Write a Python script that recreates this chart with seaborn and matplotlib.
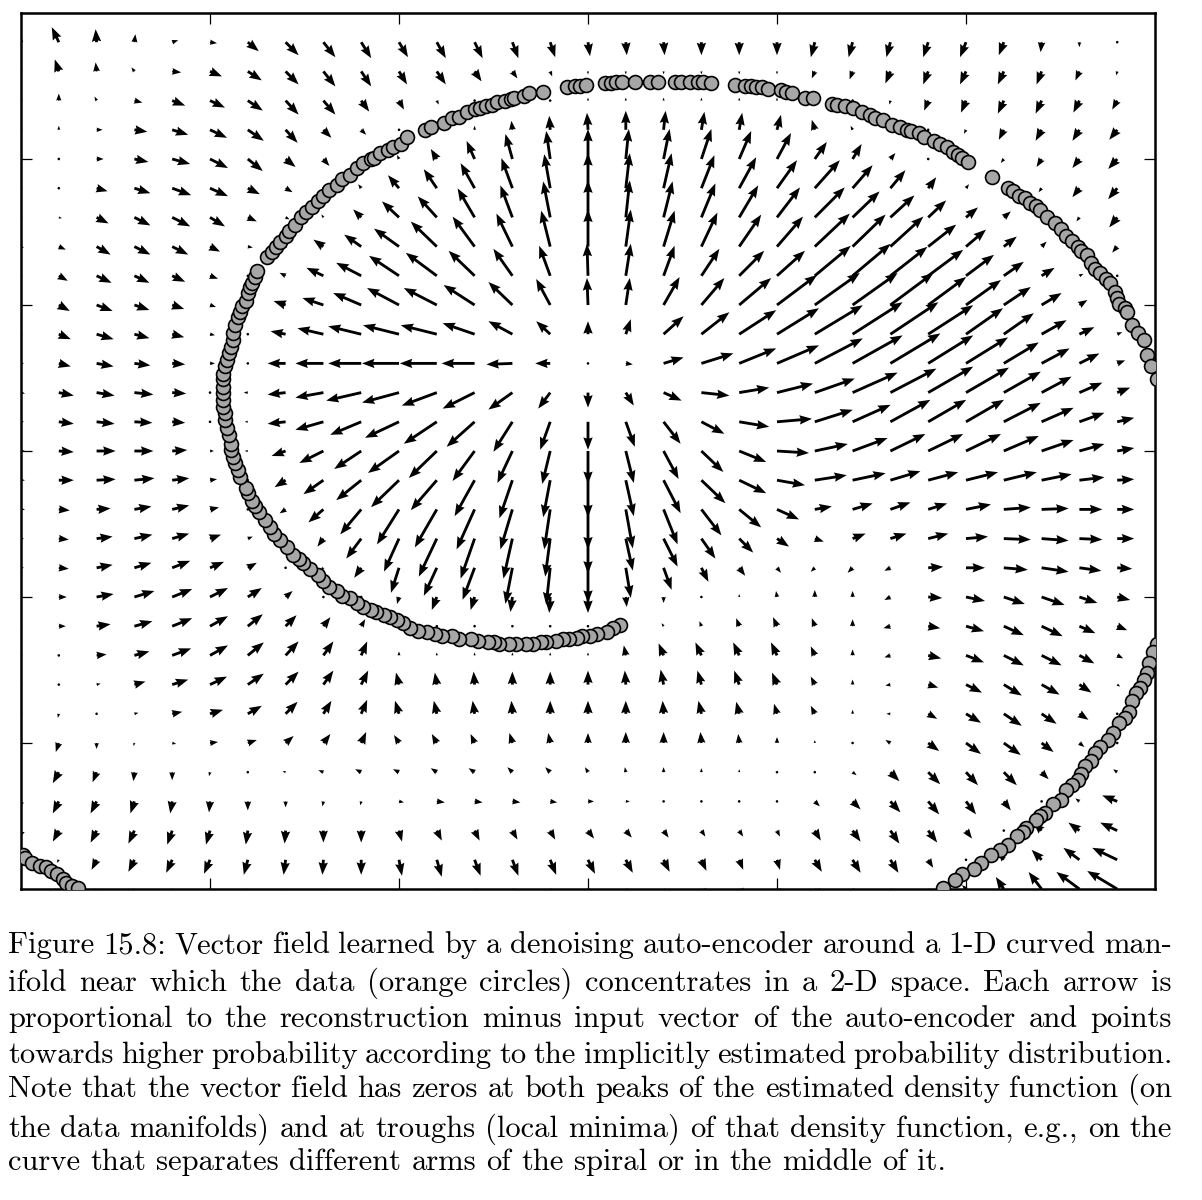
import numpy as np
import pandas as pd
import matplotlib
matplotlib.use("Agg")
import matplotlib.pyplot as plt
import seaborn as sns

# grid of the vector field (data units), rows listed from top to bottom
GRID_X = [-3.0, -2.8, -2.6, -2.4, -2.2, -2.0, -1.8, -1.6, -1.4, -1.2, -1.0, -0.8, -0.6, -0.4, -0.2,
          0.0, 0.2, 0.4, 0.6, 0.8, 1.0, 1.2, 1.4, 1.6, 1.8, 2.0, 2.2, 2.4, 2.6, 2.8]
GRID_Y = [2.8, 2.6, 2.4, 2.2, 2.0, 1.8, 1.6, 1.4, 1.2, 1.0, 0.8, 0.6, 0.4, 0.2, 0.0,
          -0.2, -0.4, -0.6, -0.8, -1.0, -1.2, -1.4, -1.6, -1.8, -2.0, -2.2, -2.4, -2.6, -2.8, -3.0]

# reconstruction minus input (screen units, v up)
U_ROWS = [
    [0,-7,-1,1,6,7,11,13,12,10,9,9,8,6,5,2,1,1,0,0,0,-4,-4,-4,-5,-6,-5,-1,0,0],
    [0,-4,-1,-3,9,12,14,13,12,10,8,9,7,5,2,0,0,0,0,0,0,-3,-3,-5,-5,-6,-6,-5,-4,-1],
    [0,0,-2,8,13,15,15,13,12,8,5,2,0,1,1,0,0,0,0,0,0,0,0,-1,-4,-5,-6,-6,-6,-5],
    [0,0,6,13,16,17,16,12,8,5,0,-1,0,-1,-1,-1,0,2,3,3,4,-3,-2,0,0,-2,-5,-6,-7,-8],
    [0,1,7,14,18,18,15,10,6,1,-2,-6,-8,-7,-4,0,3,6,10,12,14,12,9,5,1,0,-3,-5,-7,-9],
    [0,1,11,16,19,18,12,7,-1,-3,-11,-13,-14,-11,-6,0,4,8,13,17,20,25,20,15,8,3,0,-3,-7,-9],
    [0,3,12,16,18,15,9,4,-2,-8,-17,-19,-17,-12,-7,0,4,9,14,19,23,30,27,24,18,12,7,0,-3,-8],
    [3,7,14,16,16,10,5,0,-10,-17,-25,-26,-22,-16,-9,0,5,11,16,22,26,35,33,33,28,20,13,5,0,-5],
    [2,9,15,15,13,8,2,-6,-17,-25,-30,-31,-26,-19,-11,-1,5,11,18,25,28,36,38,37,35,28,20,13,4,-2],
    [2,11,16,15,12,6,0,-12,-21,-28,-32,-33,-31,-24,-14,-1,4,16,23,32,40,45,45,43,38,35,27,20,8,0],
    [2,12,17,15,12,5,-1,-15,-26,-33,-36,-36,-32,-24,-14,0,5,20,28,37,42,48,50,48,45,37,30,25,15,5],
    [3,12,17,16,13,5,-2,-18,-28,-33,-37,-37,-33,-26,-15,0,7,20,32,37,42,48,50,50,45,42,35,28,20,8],
    [4,15,18,19,14,2,-4,-18,-28,-35,-37,-35,-32,-24,-12,0,8,18,28,30,36,40,45,46,45,43,37,30,23,13],
    [3,15,18,18,13,1,-3,-18,-28,-31,-34,-33,-28,-19,-10,0,9,17,23,30,35,38,38,40,38,38,37,32,25,17],
    [4,15,19,19,15,4,-3,-14,-24,-27,-31,-28,-22,-15,-8,0,8,15,22,27,32,33,35,35,35,35,35,32,25,17],
    [4,15,19,20,17,7,0,-11,-20,-25,-28,-26,-20,-13,-7,0,8,17,24,27,28,32,33,30,30,32,33,30,25,17],
    [4,11,14,17,17,9,2,-6,-15,-21,-22,-22,-18,-12,-6,0,7,14,20,22,22,17,20,20,19,25,27,27,23,17],
    [3,10,16,18,17,11,5,-2,-6,-15,-15,-18,-14,-9,-5,0,7,14,14,14,12,9,13,16,20,22,27,27,23,17],
    [3,10,16,17,18,14,9,2,-3,-7,-8,-13,-12,-7,-4,0,5,8,7,6,4,-4,-5,-6,15,19,24,27,22,15],
    [2,8,17,20,20,18,14,7,2,-1,-2,-5,-4,-2,-1,0,1,0,0,0,-1,0,0,-6,14,19,21,23,18,13],
    [2,7,14,18,20,18,15,11,7,4,0,0,0,0,0,0,0,-2,-2,-3,-4,-3,0,-7,12,18,20,21,16,10],
    [1,2,10,15,19,18,16,13,10,6,0,0,0,0,0,0,-2,-5,-6,-6,-6,-4,0,-6,13,18,20,20,15,6],
    [1,2,4,11,16,17,16,13,10,7,-3,-2,-1,0,0,0,-1,-3,-4,-5,-5,-4,0,-5,10,16,18,18,12,3],
    [0,-1,-2,4,10,13,14,12,8,6,-4,-3,-2,-1,0,0,0,-1,-3,-3,-3,-4,0,-4,9,15,18,15,9,0],
    [0,-3,0,-1,4,8,9,8,7,5,-5,-5,-4,-3,-2,0,0,0,-1,-1,0,0,1,-5,11,15,17,12,5,-2],
    [-2,-6,-4,-1,0,-1,0,-3,-5,-6,-6,-6,-6,-5,-5,-3,-1,0,0,0,0,0,4,9,12,12,13,7,0,-4],
    [-3,-6,-6,-4,-2,-1,0,0,-1,-1,5,8,8,8,7,6,4,2,1,1,1,5,8,10,11,10,7,0,-4,-15],
    [-4,-6,-6,-6,-5,-4,-2,-1,0,0,3,5,5,5,5,6,6,5,4,4,3,6,8,9,9,6,0,-8,-11,-17],
    [0,-2,-5,-6,-6,-6,-4,-2,-1,0,3,5,6,6,6,7,7,6,5,4,3,7,8,8,5,0,-5,-10,-16,-25],
    [-3,-2,-4,-5,-5,-5,-4,-2,-1,0,3,5,6,6,6,7,7,6,5,4,3,7,8,6,2,-4,-8,-13,-23,-30],
]
V_ROWS = [
    [6,15,13,8,2,-1,-9,-13,-15,-16,-15,-16,-16,-16,-15,-14,-13,-13,-13,-13,-13,-15,-15,-15,-15,-15,-13,-10,-5,-2],
    [4,12,9,4,-1,-5,-9,-13,-15,-15,-13,-13,-10,-7,-5,-3,-3,-3,-3,-3,-3,-7,-8,-12,-13,-13,-13,-13,-9,-4],
    [2,7,4,-2,-5,-7,-10,-14,-14,-11,-9,-4,-1,1,2,3,3,3,3,3,3,-2,0,-4,-10,-12,-13,-13,-12,-9],
    [0,4,0,-2,-5,-8,-11,-13,-8,-5,0,2,4,9,14,17,19,19,18,17,15,10,4,0,0,-4,-10,-11,-11,-10],
    [0,0,0,-3,-5,-9,-12,-8,-7,-1,4,10,18,25,28,30,30,30,30,28,26,17,15,6,1,0,-4,-8,-9,-10],
    [0,0,-3,-5,-7,-8,-6,-4,1,4,13,19,25,30,34,35,35,35,33,31,28,28,23,18,11,4,0,-4,-9,-11],
    [0,-1,-6,-8,-9,-9,-4,-2,3,8,16,21,29,32,36,37,37,36,34,32,30,30,26,22,17,10,6,0,-4,-10],
    [-1,-3,-8,-8,-8,-5,-1,0,7,12,18,25,30,33,36,37,37,36,34,32,30,33,32,30,22,17,10,5,0,-6],
    [0,-5,-7,-7,-6,-3,0,3,8,13,20,23,25,27,30,32,32,30,27,25,25,30,32,29,26,21,14,8,2,1],
    [0,-6,-6,-5,-4,-2,0,4,7,12,17,17,20,23,26,27,27,28,27,27,30,32,32,32,28,25,18,12,5,1],
    [0,-5,-5,-4,-3,-1,0,3,6,8,9,9,11,13,13,13,15,18,22,24,26,29,32,32,29,26,21,14,7,2],
    [0,-3,-3,-2,-1,0,0,0,0,0,0,0,0,-1,0,0,-1,6,10,15,18,25,28,30,28,26,21,15,10,3],
    [-1,-3,-3,-2,-1,0,0,-2,-5,-8,-10,-13,-16,-17,-16,-15,-13,-8,-3,5,9,14,20,24,26,25,21,16,10,5],
    [0,-2,-2,-1,-1,0,0,-2,-8,-13,-16,-22,-25,-30,-28,-28,-25,-22,-12,-5,3,12,17,22,22,22,19,14,9,4],
    [0,-1,0,0,1,0,0,-5,-12,-18,-22,-27,-30,-32,-33,-33,-32,-28,-21,-11,-2,7,13,17,17,17,15,11,7,3],
    [0,0,1,2,2,1,0,-7,-14,-20,-27,-30,-36,-38,-37,-37,-36,-33,-23,-13,-5,5,7,9,8,8,8,6,3,1],
    [0,-1,1,3,4,2,0,-4,-13,-25,-35,-38,-40,-40,-40,-40,-39,-35,-26,-18,-10,3,6,7,6,5,2,1,0,0],
    [0,-1,2,4,5,4,2,-1,-8,-20,-33,-38,-40,-40,-38,-35,-32,-28,-20,-14,-8,-3,5,5,5,2,-1,-2,-1,0],
    [0,-1,3,5,7,6,5,2,-3,-10,-25,-28,-32,-36,-37,-35,-30,-22,-14,-8,-5,-4,-5,-3,1,0,-2,-4,-3,-1],
    [0,0,3,6,8,9,9,6,2,-2,-7,-13,-13,-15,-16,-16,-10,-6,-2,3,6,7,6,-3,-1,-4,-7,-8,-6,-3],
    [0,0,2,5,8,10,12,11,9,7,0,0,-1,-1,0,0,0,3,5,8,9,8,7,-2,-2,-5,-9,-10,-7,-4],
    [0,0,1,4,7,10,13,14,14,14,4,3,3,3,3,3,10,12,13,13,13,9,6,-2,-3,-7,-10,-10,-8,-3],
    [0,0,1,3,5,8,11,13,14,14,12,12,13,13,13,14,14,15,14,14,12,8,5,-1,-3,-8,-11,-10,-8,-2],
    [0,-4,-2,1,2,4,8,12,13,14,13,13,13,13,13,13,13,13,13,12,10,8,4,0,-5,-9,-12,-10,-6,0],
    [-2,-9,-6,-3,-1,1,3,7,9,11,8,9,9,10,10,10,11,11,11,9,6,3,-1,3,-8,-11,-12,-9,-4,2],
    [-4,-11,-10,-9,-8,-4,-2,1,2,3,3,4,4,5,5,5,5,5,4,3,2,-1,-3,-9,-12,-13,-13,-7,0,3],
    [-8,-12,-12,-12,-12,-11,-9,-6,-5,-4,-1,-1,-1,-1,-1,0,0,0,0,0,0,-5,-8,-11,-13,-13,-9,0,3,6],
    [-10,-11,-12,-13,-14,-14,-14,-13,-12,-12,-11,-10,-10,-9,-9,-8,-7,-7,-6,-6,-6,-10,-11,-13,-12,-8,0,8,8,8],
    [0,-3,-10,-12,-13,-14,-15,-15,-15,-15,-16,-17,-16,-16,-15,-14,-13,-12,-11,-10,-10,-12,-13,-13,-8,0,6,10,12,12],
    [-6,-10,-14,-15,-16,-16,-16,-16,-16,-16,-16,-17,-17,-17,-16,-15,-14,-13,-12,-11,-11,-12,-13,-14,-5,4,12,17,17,18],
]

# data points on the manifold (x, y)
INNER_ARM = [
    (0.17,-1.19),(0.13,-1.21),(0.10,-1.24),(0.05,-1.25),(0.01,-1.27),(-0.03,-1.27),(-0.06,-1.28),(-0.10,-1.29),
    (-0.13,-1.29),(-0.17,-1.30),(-0.22,-1.31),(-0.25,-1.31),(-0.29,-1.32),(-0.33,-1.32),(-0.38,-1.32),(-0.42,-1.32),
    (-0.47,-1.32),(-0.50,-1.31),(-0.53,-1.31),(-0.58,-1.30),(-0.62,-1.29),(-0.68,-1.29),(-0.72,-1.27),(-0.77,-1.27),
    (-0.81,-1.25),(-0.85,-1.24),(-0.90,-1.23),(-0.94,-1.21),(-0.98,-1.18),(-1.01,-1.16),(-1.05,-1.14),(-1.08,-1.12),
    (-1.12,-1.10),(-1.15,-1.09),(-1.19,-1.07),(-1.22,-1.04),(-1.26,-1.01),(-1.30,-0.99),(-1.33,-0.96),(-1.37,-0.93),
    (-1.40,-0.89),(-1.43,-0.85),(-1.47,-0.81),(-1.51,-0.77),(-1.53,-0.74),(-1.56,-0.71),(-1.59,-0.66),(-1.63,-0.61),
    (-1.66,-0.57),(-1.68,-0.52),(-1.71,-0.47),(-1.74,-0.42),(-1.76,-0.38),(-1.78,-0.34),(-1.80,-0.29),(-1.81,-0.25),
    (-1.84,-0.18),(-1.85,-0.13),(-1.87,-0.08),(-1.88,-0.04),(-1.89,0.01),(-1.89,0.05),(-1.90,0.11),(-1.91,0.16),
    (-1.92,0.21),(-1.92,0.26),(-1.93,0.30),(-1.93,0.35),(-1.93,0.40),(-1.93,0.44),(-1.93,0.49),(-1.93,0.53),
    (-1.92,0.58),(-1.91,0.62),(-1.90,0.67),(-1.89,0.71),(-1.88,0.76),(-1.88,0.81),(-1.87,0.86),(-1.85,0.92),
    (-1.84,0.95),(-1.83,0.99),(-1.81,1.03),(-1.80,1.08),(-1.79,1.12),(-1.78,1.15),(-1.76,1.19),(-1.75,1.23),
    (-1.70,1.33),(-1.67,1.36),(-1.65,1.40),(-1.63,1.43),(-1.60,1.47),(-1.58,1.51),(-1.55,1.55),(-1.52,1.60),
    (-1.49,1.64),(-1.46,1.67),(-1.43,1.71),(-1.40,1.75),(-1.37,1.79),(-1.33,1.82),(-1.30,1.86),(-1.26,1.89),
    (-1.22,1.94),(-1.19,1.97),(-1.15,2.00),(-1.13,2.01),(-1.10,2.04),(-1.06,2.06),(-1.03,2.08),(-0.99,2.10),
    (-0.96,2.15),(-0.86,2.20),(-0.83,2.22),(-0.76,2.25),(-0.72,2.28),(-0.68,2.29),(-0.64,2.32),(-0.60,2.34),
    (-0.57,2.35),(-0.54,2.36),(-0.51,2.37),(-0.48,2.39),(-0.44,2.40),(-0.41,2.41),(-0.39,2.42),(-0.34,2.43),
    (-0.31,2.45),(-0.24,2.46),(-0.11,2.49),(-0.07,2.50),(-0.04,2.50),(-0.01,2.51),(0.09,2.52),(0.12,2.52),
    (0.15,2.53),(0.18,2.53),(0.25,2.53),(0.33,2.53),(0.37,2.53),(0.46,2.53),(0.49,2.53),(0.54,2.53),
    (0.58,2.53),(0.61,2.53),(0.65,2.52),(0.78,2.51),(0.83,2.50),(0.86,2.50),(0.89,2.49),(0.92,2.49),
    (0.95,2.48),(1.02,2.47),(1.05,2.46),(1.08,2.45),(1.15,2.42),(1.19,2.42),(1.29,2.38),(1.32,2.37),
    (1.36,2.36),(1.40,2.35),(1.45,2.32),(1.49,2.30),(1.52,2.28),(1.56,2.27),(1.61,2.23),(1.65,2.22),
    (1.69,2.20),(1.71,2.19),(1.75,2.18),(1.78,2.15),(1.83,2.12),(1.86,2.10),(1.90,2.08),(1.93,2.05),
    (1.96,2.03),(1.98,2.01),(2.01,1.98),(2.14,1.88),(2.22,1.80),(2.25,1.78),(2.28,1.75),(2.31,1.73),
    (2.34,1.70),(2.37,1.68),(2.39,1.65),(2.43,1.60),(2.47,1.56),(2.50,1.52),(2.53,1.47),(2.56,1.44),
    (2.59,1.40),(2.61,1.37),(2.64,1.34),(2.66,1.29),(2.68,1.25),(2.71,1.22),(2.74,1.18),(2.76,1.15),
    (2.79,1.09),(2.80,1.05),(2.81,1.01),(2.84,0.98),(2.85,0.95),(2.88,0.86),(2.91,0.81),(2.94,0.76),
    (2.96,0.66),(2.98,0.58),(3.01,0.49),
]
OUTER_ARM = [
    (3.01,-1.32),(2.99,-1.38),(2.97,-1.45),(2.96,-1.52),(2.94,-1.57),(2.92,-1.62),(2.90,-1.66),(2.88,-1.71),
    (2.86,-1.79),(2.84,-1.83),(2.81,-1.86),(2.78,-1.93),(2.75,-1.98),(2.71,-2.03),(2.68,-2.07),(2.66,-2.12),
    (2.63,-2.16),(2.61,-2.21),(2.59,-2.25),(2.56,-2.29),(2.53,-2.32),(2.50,-2.39),(2.46,-2.42),(2.42,-2.48),
    (2.39,-2.50),(2.37,-2.53),(2.32,-2.58),(2.30,-2.61),(2.27,-2.64),(2.22,-2.70),(2.18,-2.73),(2.13,-2.77),
    (2.08,-2.82),(2.04,-2.86),(1.98,-2.90),(1.94,-2.94),(1.88,-2.99),
]
CORNER_ARM = [
    (-2.99,-2.77),(-2.98,-2.79),(-2.94,-2.82),(-2.90,-2.84),(-2.87,-2.85),(-2.84,-2.88),
    (-2.81,-2.90),(-2.78,-2.93),(-2.76,-2.96),(-2.73,-2.98),(-2.70,-2.99),
]

TICKS = [-2, -1, 0, 1, 2]

CAPTION_LINES = [
    "Figure 15.8:  Vector field learned by a denoising auto-encoder around a 1-D curved man-",
    "ifold near which the data (orange circles) concentrates in a 2-D space.  Each arrow is",
    "proportional to the reconstruction minus input vector of the auto-encoder and points",
    "towards higher probability according to the implicitly estimated probability distribution.",
    "Note that the vector field has zeros at both peaks of the estimated density function (on",
    "the data manifolds) and at troughs (local minima) of that density function, e.g., on the",
    "curve that separates different arms of the spiral or in the middle of it.",
]

W, H = 1202, 1200
sns.set_style("white")

fig = plt.figure(figsize=(W / 100, H / 100), dpi=100)
ax = fig.add_axes([21 / W, 1 - 889 / H, (1155 - 21) / W, (889 - 13) / H])

X, Y = np.meshgrid(GRID_X, GRID_Y)
U = np.array(U_ROWS, dtype=float)
V = np.array(V_ROWS, dtype=float)
ax.quiver(X, Y, U, V, angles="uv", scale_units="dots", scale=1.0,
          width=0.0025, headwidth=3.3, headlength=4.4, headaxislength=4.0,
          color="black", zorder=2)

pts = pd.DataFrame(INNER_ARM + OUTER_ARM + CORNER_ARM, columns=["x", "y"])
sns.scatterplot(data=pts, x="x", y="y", ax=ax, s=100, color="#a6a6a6",
                edgecolor="black", linewidth=1.2, zorder=3, legend=False)

ax.set_xlim(-3, 3)
ax.set_ylim(-3, 3)
ax.set_xticks(TICKS)
ax.set_yticks(TICKS)
ax.set_xlabel("")
ax.set_ylabel("")
ax.tick_params(direction="in", length=8, width=0.9, color="black",
               top=True, right=True, bottom=True, left=True,
               labelbottom=False, labelleft=False)
for sp in ax.spines.values():
    sp.set_color("black")
    sp.set_linewidth(1.8)

# caption, justified like the book page
FS = 22
BASELINES = [953, 991, 1027, 1063, 1097, 1137, 1170]
left_px, right_px = 8, 1172
renderer = fig.canvas.get_renderer()
space_px = 0.333 * FS * 100 / 72
for i, line in enumerate(CAPTION_LINES):
    words = line.split()
    y = 1 - BASELINES[i] / H
    texts = [fig.text(0, y, w, fontsize=FS, family="cmr10", va="baseline", ha="left", color="black")
             for w in words]
    widths = [t.get_window_extent(renderer).width for t in texts]
    if i == len(CAPTION_LINES) - 1:
        gap = space_px
    else:
        gap = (right_px - left_px - sum(widths)) / (len(words) - 1)
    x = left_px
    for t, w in zip(texts, widths):
        t.set_x(x / W)
        x += w + gap

fig.savefig("out.png", dpi=100, facecolor="white")
